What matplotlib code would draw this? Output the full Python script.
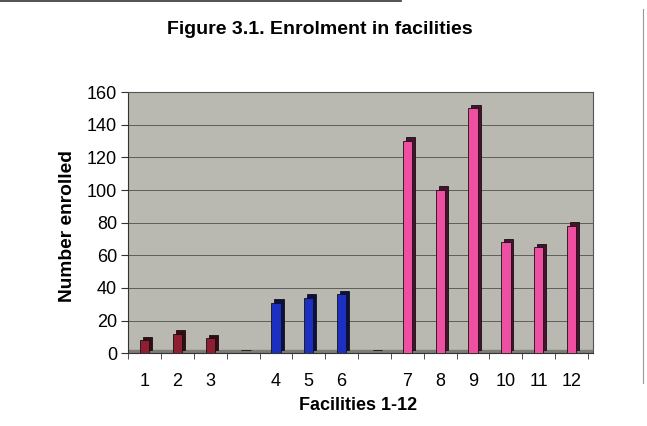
import matplotlib
matplotlib.use("Agg")
import matplotlib.pyplot as plt
import numpy as np

plt.rcParams['font.family'] = ['Liberation Sans', 'DejaVu Sans']

categories = ['1', '2', '3', '', '4', '5', '6', '', '7', '8', '9', '10', '11', '12']
enrolled = [8, 12, 9, 0, 31, 34, 36, 0, 130, 100, 150, 68, 65, 78]
groups = ['a', 'a', 'a', 'a', 'b', 'b', 'b', 'b', 'c', 'c', 'c', 'c', 'c', 'c']
front_colors = {'a': '#8e1f32', 'b': '#1c2fc0', 'c': '#ee4fa0'}
side_colors = {'a': '#3a0a12', 'b': '#0a0f45', 'c': '#4a1030'}

fig = plt.figure(figsize=(6.47, 4.26), dpi=100)
ax = fig.add_axes([0.198, 0.171, 0.7185, 0.6127])
ax.set_facecolor('#b9b9b2')

x = np.arange(len(categories))
width = 0.28
dx = 0.09
dy = 2.2

# floor
ax.axhspan(0, dy, color='#7d7d75', zorder=1)
ax.yaxis.grid(True, color='#5f5f5a', linewidth=0.7, zorder=0)

side = ax.bar(x + dx, enrolled, width=width, bottom=dy,
              color=[side_colors[g] for g in groups], edgecolor='#111111',
              linewidth=0.6, zorder=2)
front = ax.bar(x, enrolled, width=width,
               color=[front_colors[g] for g in groups], edgecolor='#111111',
               linewidth=0.6, zorder=3)

ax.set_xlim(-0.4, 13.65)
ax.set_ylim(0, 160)
ax.set_yticks(np.arange(0, 161, 20))
ax.set_xticks(x)
ax.set_xticklabels(categories)
ax.set_xticks(np.arange(-0.5, 13.6, 1), minor=True)
ax.tick_params(axis='x', which='major', length=0, labelsize=13, pad=14)
ax.tick_params(axis='x', which='minor', length=4, color='#333333')
ax.tick_params(axis='y', labelsize=13, length=5, pad=3, color='#333333')
for s in ['top', 'right']:
    ax.spines[s].set_color('#555555')
    ax.spines[s].set_linewidth(0.8)
for s in ['left', 'bottom']:
    ax.spines[s].set_color('#333333')
    ax.spines[s].set_linewidth(0.8)

fig.text(0.495, 0.931, 'Figure 3.1. Enrolment in facilities', ha='center', va='center',
         fontsize=14, fontweight='bold')
fig.text(0.105, 0.469, 'Number enrolled', ha='center', va='center', rotation=90,
         fontsize=13.8, fontweight='bold')
fig.text(0.553, 0.049, 'Facilities 1-12', ha='center', va='center',
         fontsize=13, fontweight='bold')

# scan edges
fig.add_artist(plt.Line2D([0, 0.62], [0.997, 0.997], color='#333333', linewidth=1.2))
fig.add_artist(plt.Line2D([0.994, 0.994], [0.1, 0.98], color='#999999', linewidth=0.8))

fig.savefig('out.png', dpi=100)
